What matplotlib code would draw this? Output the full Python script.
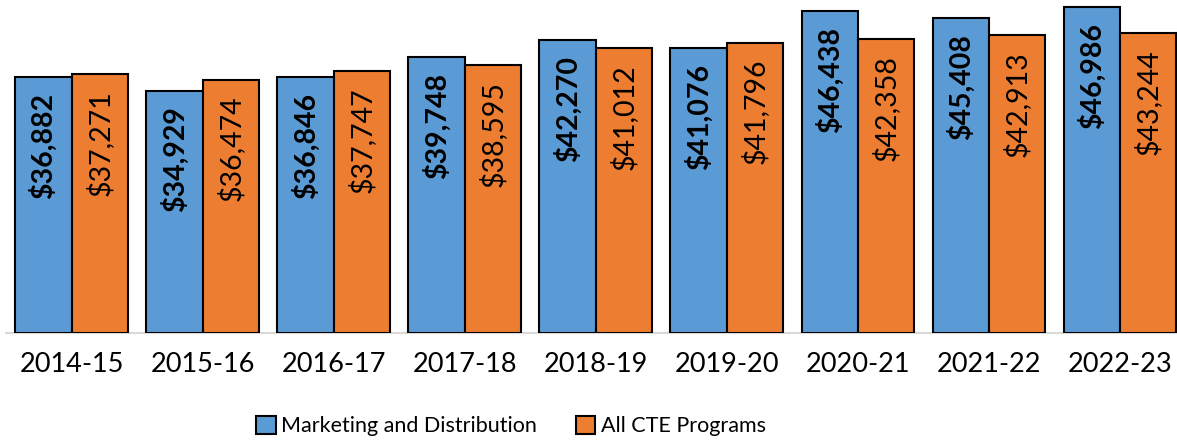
import matplotlib
matplotlib.use("Agg")
import matplotlib.pyplot as plt
import numpy as np

years = ["2014-15", "2015-16", "2016-17", "2017-18", "2018-19",
         "2019-20", "2020-21", "2021-22", "2022-23"]
marketing = [36882, 34929, 36846, 39748, 42270, 41076, 46438, 45408, 46986]
all_cte = [37271, 36474, 37747, 38595, 41012, 41796, 42358, 42913, 43244]
series_names = ["Marketing and Distribution", "All CTE Programs"]

BLUE = "#5B9BD5"
ORANGE = "#ED7D31"
FONT = "Lato"

W, H = 1177, 443
fig = plt.figure(figsize=(W / 100, H / 100), dpi=100)
ax = fig.add_axes([6 / W, (H - 332.5) / H, (W - 6) / W, 332.5 / H])

x = np.arange(len(years))
bw = 0.43
b1 = ax.bar(x - bw / 2, marketing, bw, color=BLUE, edgecolor="black",
            linewidth=1.5, label=series_names[0], zorder=3)
b2 = ax.bar(x + bw / 2, all_cte, bw, color=ORANGE, edgecolor="black",
            linewidth=1.5, label=series_names[1], zorder=3)

for rect, v in zip(b1, marketing):
    ax.annotate(f"${v:,}", (rect.get_x() + rect.get_width() / 2, v),
                xytext=(0, -11.5), textcoords="offset points",
                rotation=90, ha="center", va="top", fontsize=20.5,
                fontweight="bold", family=FONT, color="black", zorder=4)
for rect, v in zip(b2, all_cte):
    ax.annotate(f"${v:,}", (rect.get_x() + rect.get_width() / 2, v),
                xytext=(0, -11.5), textcoords="offset points",
                rotation=90, ha="center", va="top", fontsize=20.5,
                family=FONT, color="black", zorder=4)

period = 131.06
ax.set_xlim(-0.5, -0.5 + (W - 6) / period)
ax.set_ylim(0, 48000)
ax.set_yticks([])
ax.set_xticks(x)
ax.set_xticklabels(years, fontsize=19.5, family=FONT)
ax.tick_params(axis="x", length=0, pad=14)
for s in ["top", "right", "left"]:
    ax.spines[s].set_visible(False)
ax.spines["bottom"].set_color("#D9D9D9")
ax.spines["bottom"].set_linewidth(1.5)
ax.patch.set_alpha(0)

leg = fig.legend(handles=[b1, b2], labels=series_names, loc="center",
                 bbox_to_anchor=(511 / W, 17 / H), ncol=2, frameon=False,
                 prop={"family": FONT, "size": 15.5}, handlelength=0.9,
                 handleheight=0.9, handletextpad=0.25, columnspacing=1.8,
                 borderaxespad=0)

fig.savefig("out.png", dpi=100)
